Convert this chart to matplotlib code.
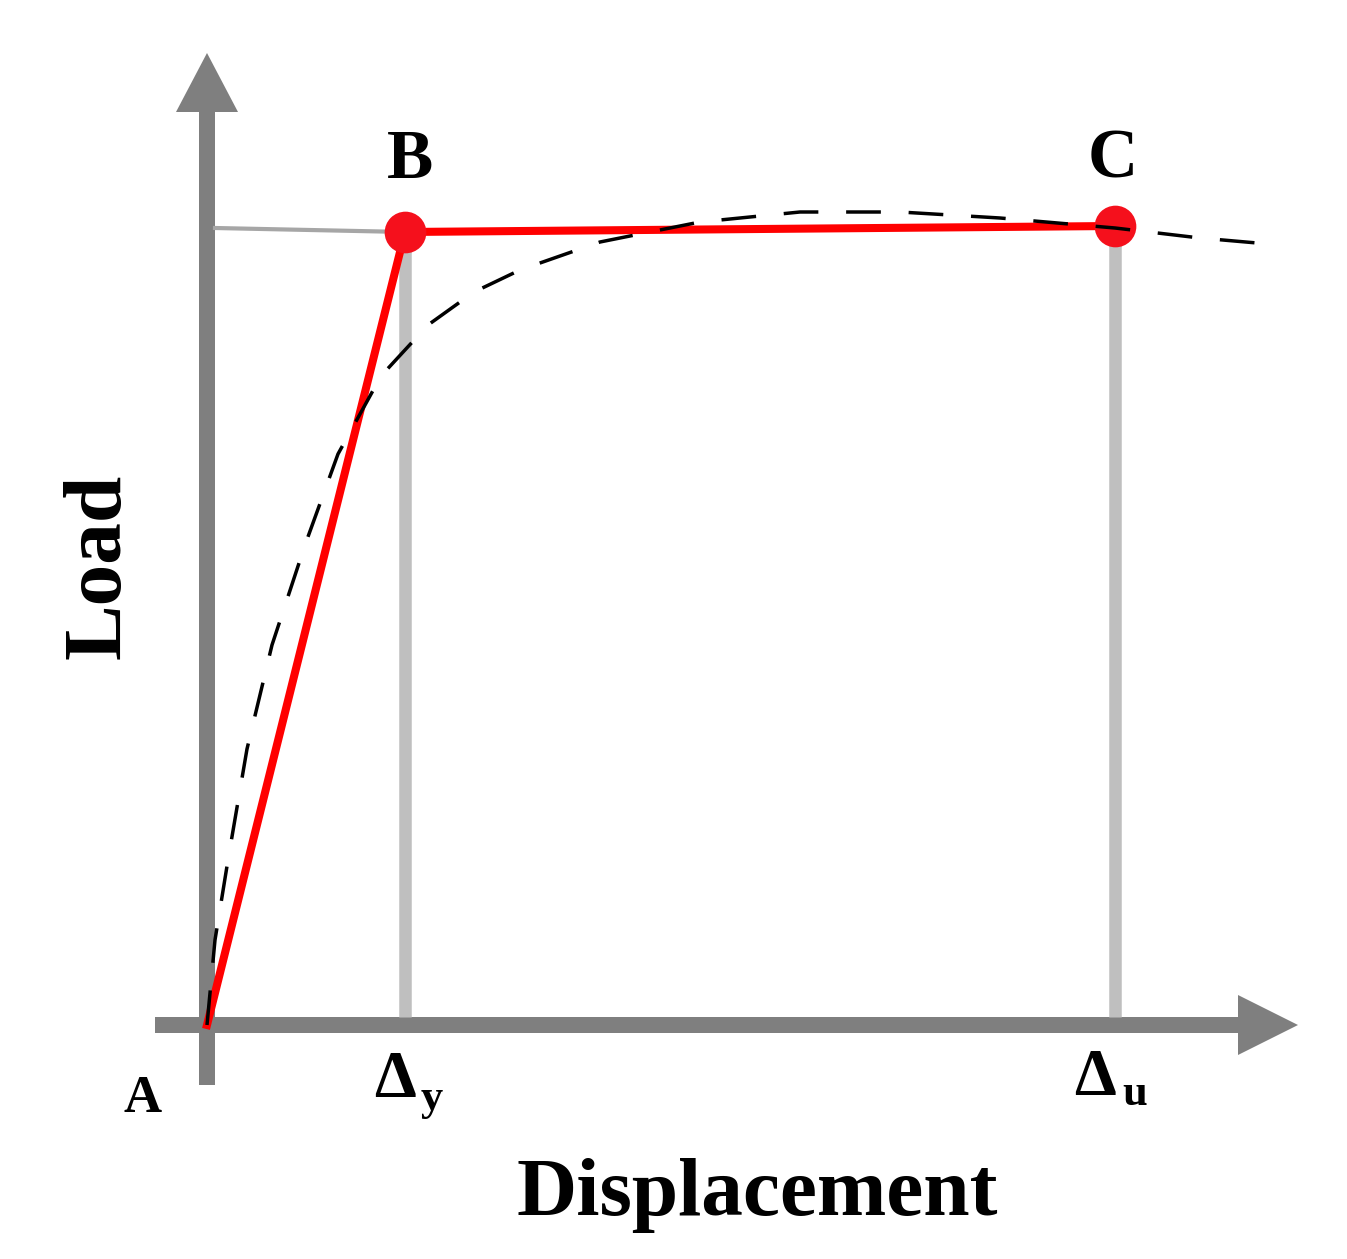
import matplotlib.pyplot as plt

# data (arbitrary units, origin at A)
disp_bilinear = [0.0, 1.98, 9.08]      # A, B (Δy), C (Δu)
load_bilinear = [0.0, 7.93, 7.99]

disp_curve = [0.0, 0.08, 0.21, 0.40, 0.65, 0.98, 1.31, 1.74, 2.21, 2.67, 3.13,
              3.93, 4.93, 5.93, 6.93, 7.93, 9.08, 9.93, 10.73]
load_curve = [0.0, 0.85, 1.65, 2.76, 3.80, 4.80, 5.71, 6.49, 7.00, 7.33, 7.55,
              7.83, 8.03, 8.13, 8.13, 8.07, 7.97, 7.87, 7.80]

point_labels = ['A', 'B', 'C']
x_label = 'Displacement'
y_label = 'Load'

axis_grey = '#7f7f7f'
light_grey = '#bfbfbf'
font = 'Liberation Serif'

fig = plt.figure(figsize=(13.47, 12.59), dpi=100)
ax = fig.add_axes([0, 0, 1, 1])
ax.set_xlim(-2.07, 11.40)
ax.set_ylim(-2.34, 10.25)
ax.axis('off')

# axes with arrow heads
ax.arrow(-0.52, 0, 11.43, 0, width=0.16, head_width=0.60, head_length=0.60,
         length_includes_head=True, color=axis_grey, lw=0, zorder=1)
ax.arrow(0, -0.60, 0, 10.32, width=0.16, head_width=0.62, head_length=0.59,
         length_includes_head=True, color=axis_grey, lw=0, zorder=1)

# guide lines
dy, du = disp_bilinear[1], disp_bilinear[2]
ax.plot([0.08, dy], [load_bilinear[1] + 0.04, load_bilinear[1]], color='#a6a6a6', lw=3, zorder=2)
ax.plot([dy, dy], [0.08, load_bilinear[1]], color=light_grey, lw=9, solid_capstyle='butt', zorder=2)
ax.plot([du, du], [0.08, load_bilinear[2]], color=light_grey, lw=9, solid_capstyle='butt', zorder=2)

# idealised bilinear curve
ax.plot(disp_bilinear, load_bilinear, color='red', lw=5.8, zorder=3)
ax.plot(disp_bilinear[1:], load_bilinear[1:], 'o', color='#f5101c', ms=30, mec='none', zorder=4)

# actual curve
ax.plot(disp_curve, load_curve, color='black', lw=2.5, dashes=(10, 8), zorder=5)

# labels
ax.text(-0.64, -0.87, point_labels[0], fontsize=38, fontweight='bold', family=font,
        ha='center', va='baseline')
ax.text(2.03, 8.47, point_labels[1], fontsize=50, fontweight='bold', family=font,
        ha='center', va='baseline')
ax.text(9.06, 8.48, point_labels[2], fontsize=50, fontweight='bold', family=font,
        ha='center', va='baseline')

ax.text(1.88, -0.72, 'Δ', fontsize=48, fontweight='bold', family=font, ha='center', va='baseline')
ax.text(2.25, -0.85, 'y', fontsize=32, fontweight='bold', family=font, ha='center', va='baseline')
ax.text(8.88, -0.70, 'Δ', fontsize=48, fontweight='bold', family=font, ha='center', va='baseline')
ax.text(9.28, -0.80, 'u', fontsize=32, fontweight='bold', family=font, ha='center', va='baseline')

ax.text(5.50, -1.90, x_label, fontsize=60, fontweight='bold', family=font,
        ha='center', va='baseline')
ax.text(-0.87, 4.59, y_label, fontsize=60, fontweight='bold', family=font,
        ha='center', va='baseline', rotation=90, rotation_mode='anchor')

fig.savefig('out.png', dpi=100)
